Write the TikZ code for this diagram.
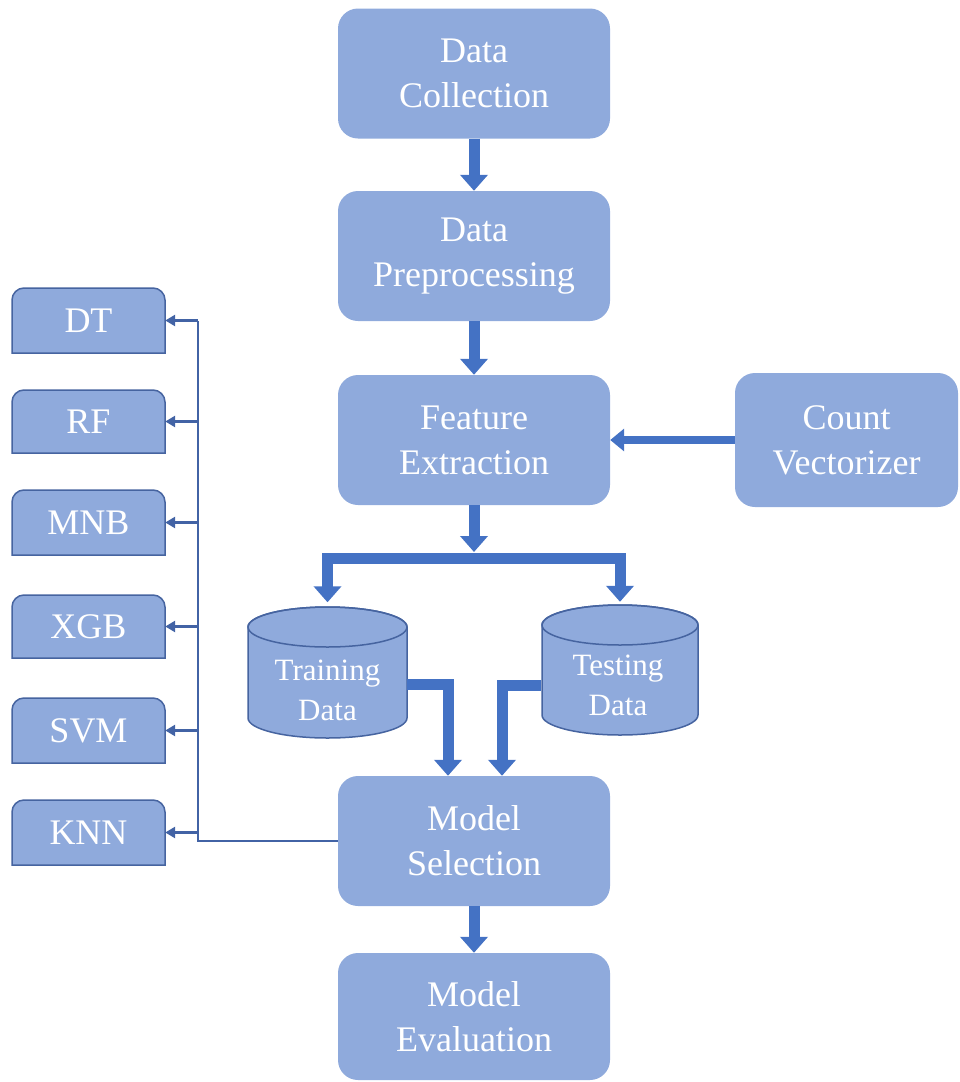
\documentclass[tikz,border=0pt]{standalone}
\usepackage{fontspec}
\setmainfont{Liberation Serif}
\usetikzlibrary{arrows.meta}
\definecolor{boxfill}{RGB}{143,170,220}
\definecolor{arrblue}{RGB}{68,114,196}
\definecolor{thinblue}{RGB}{66,99,165}
\definecolor{edgeblue}{RGB}{70,100,160}
\tikzset{
 mainbox/.style={fill=boxfill, rounded corners=20pt, minimum width=272pt, minimum height=130pt, text=white, font=\fontsize{36}{45}\selectfont, align=center, inner sep=0pt},
 sidetext/.style={text=white, font=\fontsize{36}{45}\selectfont, minimum width=153pt, minimum height=64pt, inner sep=0pt},
 cyltext/.style={text=white, font=\fontsize{31}{40}\selectfont, align=center, inner sep=0pt},
 cylarea/.style={minimum width=158pt, minimum height=130pt, inner sep=0pt},
 bigarrow/.style={draw=arrblue, line width=11pt, -{Triangle[width=27pt,length=16pt]}},
 thinarrow/.style={draw=thinblue, line width=2.5pt, -{Triangle[width=11pt,length=10pt]}},
 thinline/.style={draw=thinblue, line width=2.5pt},
 lbox/.style={fill=boxfill, draw=edgeblue, line width=1.5pt},
 cyl/.style={fill=boxfill, draw=edgeblue, line width=1.5pt}
}
\newcommand\toprnd[4]{\filldraw[lbox] (#1,-#4) -- (#1,{-#2-12}) arc[start angle=180,end angle=90,radius=12pt] -- ({#3-12},-#2) arc[start angle=90,end angle=0,radius=12pt] -- (#3,-#4) -- cycle;}
\newcommand\cylshape[5]{%
 \filldraw[cyl] ({#1-#2},{-#3-#5}) -- ({#1-#2},{-#4+#5}) arc[start angle=180,end angle=360,x radius=#2pt,y radius=#5pt] -- ({#1+#2},{-#3-#5}) arc[start angle=0,end angle=180,x radius=#2pt,y radius=#5pt] -- cycle;
 \draw[cyl, fill=none] (#1,{-#3-#5}) ellipse[x radius=#2pt,y radius=#5pt];}
\begin{document}
\begin{tikzpicture}[x=1pt,y=1pt]
\useasboundingbox (0,0) rectangle (959,-1082);
% main column
\node[mainbox] (dc) at (474,-73.5) {Data\\Collection};
\node[mainbox] (dp) at (474,-256) {Data\\Preprocessing};
\node[mainbox] (fe) at (474,-440) {Feature\\Extraction};
\node[mainbox] (ms) at (474,-841) {Model\\Selection};
\node[mainbox, minimum height=127pt] (me) at (474,-1016.5) {Model\\Evaluation};
\node[mainbox, minimum width=223pt, minimum height=134pt] (cv) at (846.5,-440) {Count\\Vectorizer};
% cylinders
\cylshape{327.5}{79.5}{607}{738}{20}
\cylshape{620}{78}{605}{735}{20}
\node[cylarea] (tr) at (327.5,-672.5) {};
\node[cylarea] (ts) at (620,-670) {};
\node[cyltext] (trt) at (327.5,-690) {Training\\Data};
\node[cyltext] (tst) at (618,-685) {Testing\\Data};
% left boxes
\toprnd{12}{288}{165}{353}
\toprnd{12}{390}{165}{453}
\toprnd{12}{490}{165}{555}
\toprnd{12}{595}{165}{658}
\toprnd{12}{698}{165}{763}
\toprnd{12}{800}{165}{865}
\node[sidetext] (dt) at (88.5,-320.5) {DT};
\node[sidetext] (rf) at (88.5,-421.5) {RF};
\node[sidetext] (mnb) at (88.5,-522.5) {MNB};
\node[sidetext] (xgb) at (88.5,-626.5) {XGB};
\node[sidetext] (svm) at (88.5,-730.5) {SVM};
\node[sidetext] (knn) at (88.5,-832.5) {KNN};
% thick arrows
\draw[bigarrow] (dc) -- (dp);
\draw[bigarrow] (dp) -- (fe);
\draw[bigarrow, line width=8pt, -{Triangle[width=22pt,length=14pt]}] (cv.west) -- (fe.east);
\coordinate (split) at (474,-558);
\draw[bigarrow] (fe.south) -- ([yshift=6pt]split);
\draw[bigarrow] (split) -| ([yshift=5pt]tr.north);
\draw[bigarrow] (split) -| ([yshift=3pt]ts.north);
\draw[bigarrow] ([yshift=-12pt]tr.east) -| ([xshift=-26pt]ms.north);
\draw[bigarrow] ([yshift=-15pt]ts.west) -| ([xshift=28pt]ms.north);
\draw[bigarrow] (ms) -- (me);
% thin connectors
\coordinate (busbot) at (198,-841);
\draw[thinline] (ms.west) -- (busbot) -- (busbot |- dt.east);
\foreach \n in {dt,rf,mnb,xgb,svm,knn}{
  \draw[thinarrow] (busbot |- \n.east) -- (\n.east);
}
\end{tikzpicture}
\end{document}
